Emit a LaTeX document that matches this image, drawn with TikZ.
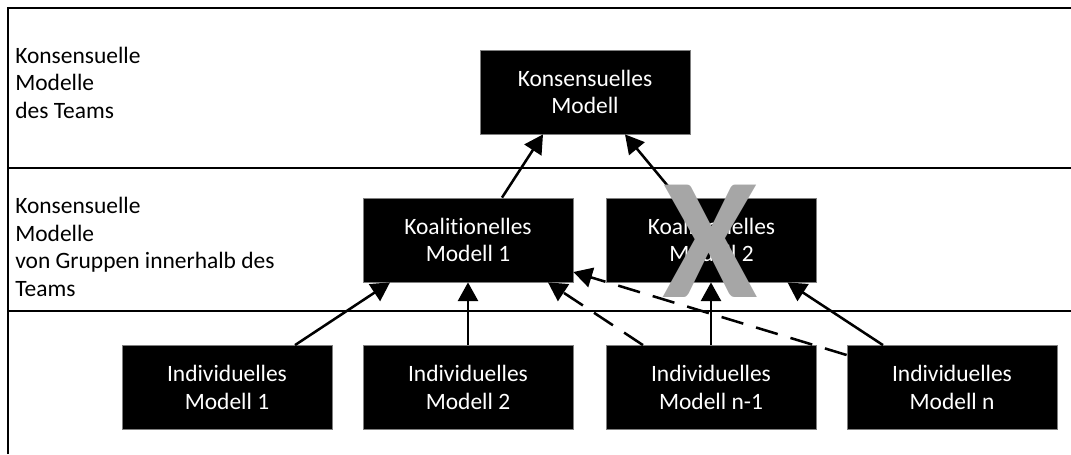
\documentclass[tikz,border=0pt]{standalone}
\usepackage{fontspec}
\setmainfont{Carlito}[Ligatures=NoCommon]
\usetikzlibrary{arrows.meta,calc}
\definecolor{boxedge}{HTML}{7F7F7F}
\definecolor{crossgray}{HTML}{A6A6A6}
\begin{document}
\begin{tikzpicture}[x=0.75pt,y=-0.75pt,
  model/.style={fill=black, draw=boxedge, line width=0.6pt, text=white,
    minimum width=157.5pt, minimum height=63pt, inner sep=0pt, align=center,
    font=\fontsize{17.6}{20.6}\selectfont},
  bandtext/.style={anchor=base west, inner sep=0pt, align=left,
    font=\fontsize{17.6}{20.6}\selectfont},
  link/.style={line width=1.9pt, -{Triangle[length=14pt,width=15pt]}},
  dlink/.style={link, dash pattern=on 17pt off 10pt},
  rule/.style={line width=1.5pt}
]
\useasboundingbox (0,0) rectangle (1071,454);

% frame and band separators
\coordinate (fl) at (8,454);
\coordinate (tl) at (8,8);
\coordinate (tr) at (1071,8);
\draw[rule] (fl) -- (tl) -- (tr);
\draw[rule] (8,168) -- (1071,168);
\draw[rule] (8,311) -- (1071,311);

% band captions (anchored at the baseline of their last line)
\node[bandtext] (cap1) at (15,118) {Konsensuelle\\Modelle\\des Teams};
\node[bandtext] (cap2) at (15,296) {Konsensuelle\\Modelle\\von Gruppen innerhalb des\\Teams};

% models
\node[model] (kons)  at (585,92)    {Konsensuelles\\Modell};
\node[model] (koal1) at (468,240)   {Koalitionelles\\Modell 1};
\node[model] (koal2) at (711.5,240) {Koalitionelles\\Modell 2};
\node[model] (ind1)  at (227,387.5) {Individuelles\\Modell 1};
\node[model] (ind2)  at (468,387.5) {Individuelles\\Modell 2};
\node[model] (indn1) at (711,387.5) {Individuelles\\Modell n-1};
\node[model] (indn)  at (952,387.5) {Individuelles\\Modell n};

% connectors
\draw[link] ($(koal1.north)+(34,0)$) -- ($(kons.south)+(-42,0)$);
\draw[link] ($(koal2.north)+(-34,0)$) -- ($(kons.south)+(40,0)$);
\draw[link] ($(ind1.north)+(68,0)$) -- ($(koal1.south)+(-78,0)$);
\draw[link] (ind2.north) -- (koal1.south);
\draw[dlink] ($(indn1.north)+(-68,0)$) -- ($(koal1.south)+(80,0)$);
\draw[link] (indn1.north) -- (indn1.north |- koal2.south);
\draw[dlink] ($(indn.west)+(0,-32.5)$) -- ($(koal1.east)+(0,32)$);
\draw[link] ($(indn.north)+(-69,0)$) -- ($(koal2.south)+(76,0)$);

% crossed-out coalition model
\node[text=crossgray, inner sep=0pt, font=\fontsize{130}{130}\selectfont\bfseries] (cross) at (710,241) {X};
\end{tikzpicture}
\end{document}
